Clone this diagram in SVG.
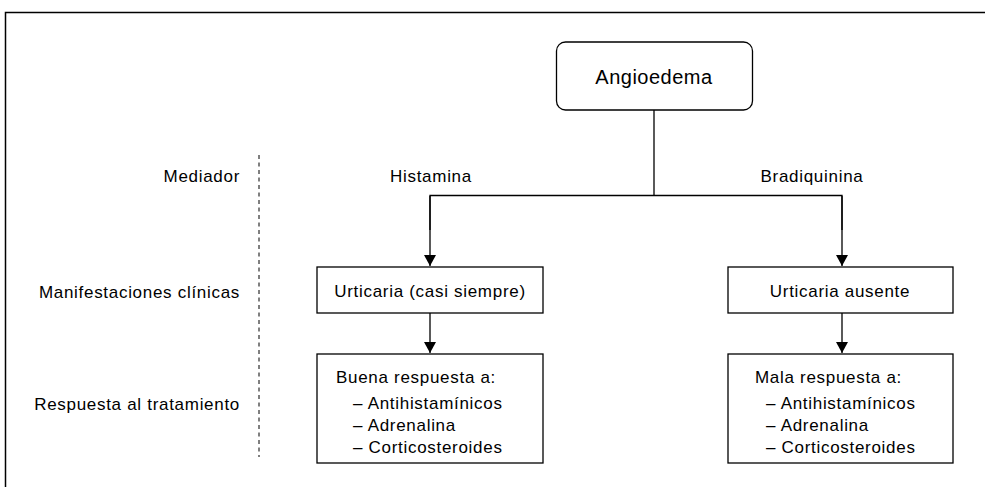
<svg xmlns="http://www.w3.org/2000/svg" width="985" height="487" viewBox="0 0 985 487">
<defs>
<marker id="ah" viewBox="0 0 11 12" refX="11" refY="6" markerWidth="11" markerHeight="12" markerUnits="userSpaceOnUse" orient="auto">
<path d="M0,0 L11,6 L0,12 z" fill="#000"/>
</marker>
<style>
text{font-family:"Liberation Sans",Arial,sans-serif;font-size:17px;fill:#000;letter-spacing:0.7px}
.box{fill:#fff;stroke:#000;stroke-width:1.3}
.ln{fill:none;stroke:#000;stroke-width:1.3}
.lab{text-anchor:end}
.c{text-anchor:middle}
</style>
</defs>
<rect width="985" height="487" fill="#fff"/>
<path d="M5.5,487 V12.5 H985" fill="none" stroke="#000" stroke-width="1.5"/>
<g id="labels">
<text class="lab" x="240" y="182">Mediador</text>
<text class="lab" x="240" y="298">Manifestaciones clínicas</text>
<text class="lab" x="240" y="410">Respuesta al tratamiento</text>
<line x1="259" y1="155" x2="259" y2="457" stroke="#000" stroke-width="1" stroke-dasharray="4,3.5"/>
</g>
<g id="connectors">
<path class="ln" d="M654,110 V195.5"/>
<path class="ln" d="M430,230 V195.5 H842 V230"/>
<line class="ln" x1="430" y1="196" x2="430" y2="266" marker-end="url(#ah)"/>
<line class="ln" x1="842" y1="196" x2="842" y2="266" marker-end="url(#ah)"/>
<line class="ln" x1="430" y1="313" x2="430" y2="353" marker-end="url(#ah)"/>
<line class="ln" x1="842" y1="313" x2="842" y2="353" marker-end="url(#ah)"/>
<text class="c" x="431" y="182">Histamina</text>
<text class="c" x="812" y="182">Bradiquinina</text>
</g>
<g id="angioedema">
<rect class="box" x="556.5" y="42" width="196" height="68" rx="9"/>
<text class="c" x="654" y="84" style="font-size:20px;letter-spacing:0.5px">Angioedema</text>
</g>
<g id="urticaria-casi-siempre">
<rect class="box" x="317" y="267" width="226" height="46"/>
<text class="c" x="430" y="297">Urticaria (casi siempre)</text>
</g>
<g id="urticaria-ausente">
<rect class="box" x="728" y="267" width="225" height="46"/>
<text class="c" x="840" y="297">Urticaria ausente</text>
</g>
<g id="buena-respuesta">
<rect class="box" x="317" y="354" width="226" height="109"/>
<text x="336" y="383">Buena respuesta a:</text>
<text x="353" y="409">– Antihistamínicos</text>
<text x="353" y="431">– Adrenalina</text>
<text x="353" y="453">– Corticosteroides</text>
</g>
<g id="mala-respuesta">
<rect class="box" x="728" y="354" width="225" height="109"/>
<text x="755" y="383">Mala respuesta a:</text>
<text x="766" y="409">– Antihistamínicos</text>
<text x="766" y="431">– Adrenalina</text>
<text x="766" y="453">– Corticosteroides</text>
</g>
</svg>
